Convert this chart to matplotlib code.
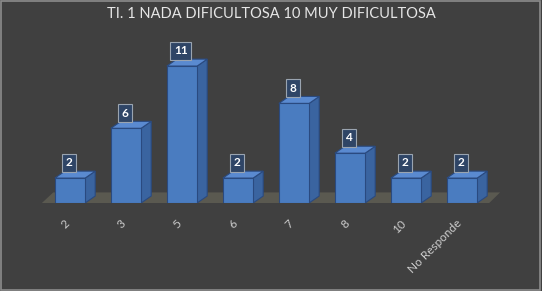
import matplotlib.pyplot as plt
from matplotlib.patches import Polygon
from matplotlib.transforms import ScaledTranslation

# chart data
categories = ['2', '3', '5', '6', '7', '8', '10', 'No Responde']
values = [2, 6, 11, 2, 8, 4, 2, 2]
title = 'TI. 1 NADA DIFICULTOSA 10 MUY DIFICULTOSA'

plt.rcParams['font.family'] = ['Lato', 'DejaVu Sans']

BG = '#404040'
FRONT = '#4a7cc0'
SIDE = '#3a64a0'
TOP = '#5a8ad0'
EDGE = '#2a4a80'

fig = plt.figure(figsize=(5.42, 2.91), dpi=100, facecolor=BG)
# axes spans px 28..504 horizontally, bottom at px 203, 12.45 px per unit
ax = fig.add_axes([28 / 542, 88 / 291, 476 / 542, 155.6 / 291])
ax.set_facecolor('none')
ax.set_xlim(-0.75, 7.75)
ax.set_ylim(0, 12.5)
for s in ax.spines.values():
    s.set_visible(False)
ax.set_yticks([])

w = 0.54      # bar width
dx = 0.18     # depth offset x
dy = 0.56     # depth offset y

# floor slab
floor = Polygon([(-0.54, -0.16), (7.45, -0.16), (7.68, 0.85), (-0.30, 0.85)],
                closed=True, facecolor='#5a5950', edgecolor='none', zorder=1)
ax.add_patch(floor)

xs = list(range(len(categories)))
ax.bar(xs, values, width=w, color=FRONT, edgecolor=EDGE, linewidth=0.8, zorder=3)
for x, v in zip(xs, values):
    r = x + w / 2
    l = x - w / 2
    side = Polygon([(r, 0), (r + dx, dy), (r + dx, v + dy), (r, v)],
                   closed=True, facecolor=SIDE, edgecolor=EDGE, linewidth=0.8, zorder=2)
    top = Polygon([(l, v), (r, v), (r + dx, v + dy), (l + dx, v + dy)],
                  closed=True, facecolor=TOP, edgecolor=EDGE, linewidth=0.8, zorder=2)
    ax.add_patch(side)
    ax.add_patch(top)
    ax.annotate(str(v), (x - 0.02, v), xytext=(0, 11), textcoords='offset points',
                ha='center', va='center', color='white', fontsize=8.5, fontweight='bold',
                bbox=dict(boxstyle='square,pad=0.3', facecolor='#2f4566',
                          edgecolor='#9aa4b0', linewidth=0.8),
                zorder=5, annotation_clip=False)

ax.set_xticks(xs)
ax.set_xticklabels(categories, rotation=45, ha='right', va='top',
                   rotation_mode='anchor', color='#cccccc', fontsize=8.5)
ax.tick_params(axis='x', length=0, pad=10)
shift = ScaledTranslation(-6 / 100, -1 / 100, fig.dpi_scale_trans)
for lab in ax.get_xticklabels():
    lab.set_transform(lab.get_transform() + shift)

fig.text(0.5, 1 - 14 / 291, title, ha='center', va='center', color='#e6e6e6', fontsize=10.5)

# light frame around the chart area
frame = plt.Rectangle((0.002, 0.003), 0.995, 0.994, transform=fig.transFigure,
                      fill=False, edgecolor='#8c8c8c', linewidth=1.2)
fig.patches.append(frame)

fig.savefig('out.png', dpi=100, facecolor=BG)
